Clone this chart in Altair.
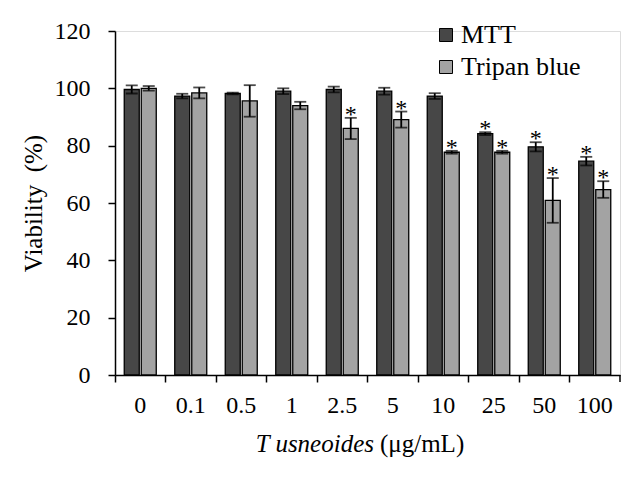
import altair as alt
import pandas as pd

conc = ["0", "0.1", "0.5", "1", "2.5", "5", "10", "25", "50", "100"]
series = ["MTT", "Tripan blue"]
mtt = [99.6, 97.3, 98.2, 99.0, 99.6, 99.0, 97.3, 84.2, 79.6, 74.6]
mtt_err = [1.4, 0.8, 0.3, 1.0, 1.0, 1.2, 1.0, 0.5, 1.6, 1.5]
tb = [100.0, 98.4, 95.6, 94.0, 86.0, 89.1, 77.7, 77.7, 60.9, 64.7]
tb_err = [0.8, 1.9, 5.5, 1.3, 3.7, 2.8, 0.5, 0.5, 7.8, 2.9]
mtt_star = [0, 0, 0, 0, 0, 0, 0, 1, 1, 1]
tb_star = [0, 0, 0, 0, 1, 1, 1, 1, 1, 1]
colors = ["#474747", "#a3a3a3"]

rows = []
for i, c in enumerate(conc):
    for s, v, e, st in ((series[0], mtt[i], mtt_err[i], mtt_star[i]),
                        (series[1], tb[i], tb_err[i], tb_star[i])):
        rows.append({"conc": c, "series": s, "value": v, "lo": v - e,
                     "hi": v + e, "star": "*" if st else ""})
df = pd.DataFrame(rows)

FONT = "Liberation Serif"
W, H = 505, 344

x_enc = alt.X("conc:N", sort=conc,
              scale=alt.Scale(paddingInner=0, paddingOuter=0),
              axis=alt.Axis(title=None, labelAngle=0, bandPosition=0,
                            labelFont=FONT, labelFontSize=24,
                            labelColor="black", labelPadding=11, tickSize=7,
                            tickColor="black", tickWidth=1.5, domainColor="black",
                            domainWidth=1.5))
xo_enc = alt.XOffset("series:N", sort=series,
                     scale=alt.Scale(paddingInner=0.118, paddingOuter=0.544))
y_axis = alt.Axis(values=[0, 20, 40, 60, 80, 100, 120], title="Viability\u00a0 (%)",
                  labelFont=FONT, labelFontSize=24, labelColor="black",
                  labelPadding=18, tickSize=7, tickColor="black", tickWidth=1.5,
                  domainColor="black", domainWidth=1.5, titleFont=FONT,
                  titleFontSize=25, titleFontWeight="normal", titleColor="black",
                  titlePadding=8, grid=False)
y_scale = alt.Scale(domain=[0, 120], nice=False)

base = alt.Chart(df)

bars = base.mark_bar(stroke="black", strokeWidth=1.3).encode(
    x=x_enc, xOffset=xo_enc,
    y=alt.Y("value:Q", scale=y_scale, axis=y_axis, title="Viability\u00a0 (%)"),
    color=alt.Color("series:N", sort=series,
                    scale=alt.Scale(domain=series, range=colors),
                    legend=alt.Legend(title=None, orient="none", legendX=318,
                                      legendY=-9, symbolType="square",
                                      symbolSize=169, symbolStrokeColor="black",
                                      symbolStrokeWidth=1, labelFont=FONT,
                                      labelFontSize=26, labelColor="black",
                                      rowPadding=6, labelOffset=2, padding=0)),
)

err = base.mark_rule(color="black", strokeWidth=1.8).encode(
    x=x_enc, xOffset=xo_enc,
    y=alt.Y("lo:Q", scale=y_scale, title="Viability\u00a0 (%)"), y2="hi:Q",
)
cap_hi = base.mark_tick(color="black", thickness=1.8, size=12).encode(
    x=x_enc, xOffset=xo_enc,
    y=alt.Y("hi:Q", scale=y_scale, title="Viability\u00a0 (%)"),
)
cap_lo = base.mark_tick(color="black", thickness=1.8, size=12).encode(
    x=x_enc, xOffset=xo_enc,
    y=alt.Y("lo:Q", scale=y_scale, title="Viability\u00a0 (%)"),
)
stars = base.mark_text(font=FONT, fontSize=24, color="black", baseline="alphabetic",
                       dy=4).encode(
    x=x_enc, xOffset=xo_enc,
    y=alt.Y("hi:Q", scale=y_scale, title="Viability\u00a0 (%)"),
    text="star:N",
)

one = pd.DataFrame({"k": [0]})
last_tick = alt.Chart(one).mark_rule(color="black", strokeWidth=1.5).encode(
    x=alt.value(W), y=alt.value(H), y2=alt.value(H + 7))
xt1 = alt.Chart(one).mark_text(text="T usneoides", font=FONT, fontSize=25,
                               fontStyle="italic", align="right",
                               baseline="alphabetic", color="black").encode(
    x=alt.value(259), y=alt.value(421))
xt2 = alt.Chart(one).mark_text(text="(\u03bcg/mL)", font=FONT, fontSize=25,
                               align="left", baseline="alphabetic",
                               color="black").encode(
    x=alt.value(265), y=alt.value(421))

chart = alt.layer(bars, err, cap_hi, cap_lo, stars, last_tick, xt1, xt2).properties(
    width=W, height=H,
    autosize=alt.AutoSizeParams(type="none"),
    padding={"left": 107, "top": 23, "right": 12, "bottom": 97},
).configure_view(stroke=None).configure(background="white")

chart.save("out.html", embed_options={"renderer": "svg", "actions": False})
